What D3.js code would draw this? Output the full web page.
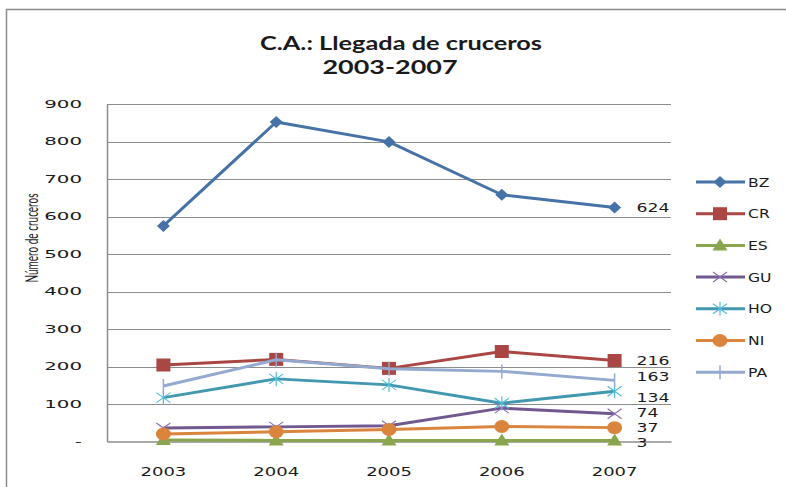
<!DOCTYPE html>
<html>
<head>
<meta charset="utf-8">
<script src="https://cdn.jsdelivr.net/npm/d3@7/dist/d3.min.js"></script>
<style>
  body { margin: 0; background: #fff; }
  svg { display: block; }
  text { fill: #1a1a1a; }
  .tick-label, .end-label, .legend-label, .year-label { font-family: "DejaVu Sans", sans-serif; }
  .tick-label { font-size: 11px; }
  .year-label { font-size: 12px; }
  .end-label { font-size: 12.5px; }
  .legend-label { font-size: 12.5px; }
  .title { font-family: Lato, "Open Sans", sans-serif; font-size: 19px; font-weight: bold; }
  .y-title { font-family: Lato, "Open Sans", sans-serif; font-size: 14px; }
</style>
</head>
<body>
<div id="chart"></div>
<script>
// data
const years = ['2003', '2004', '2005', '2006', '2007'];
const countries = ['BZ', 'CR', 'ES', 'GU', 'HO', 'NI', 'PA'];
const bz = [575, 852, 799, 658, 624];
const cr = [204, 219, 195, 240, 216];
const es = [4, 3, 3, 3, 3];
const gu = [36, 39, 42, 89, 74];
const ho = [117, 167, 151, 102, 134];
const ni = [20, 26, 32, 40, 37];
const pa = [148, 218, 194, 187, 163];
const yTickValues = [0, 100, 200, 300, 400, 500, 600, 700, 800, 900];

const seriesValues = [bz, cr, es, gu, ho, ni, pa];

// styles
const colors = ['#4572A7', '#AA4643', '#89A54E', '#71588F', '#4198AF', '#DB843D', '#93A9CF'];
const markers = ['diamond', 'square', 'triangle', 'x', 'star', 'circle', 'plus'];
// small vertical nudges for end labels so they don't collide
const labelNudge = { BZ: 0, CR: 0, ES: 2, GU: -1.5, HO: 6, NI: 0, PA: -4 };

const W = 786, H = 487;
const plot = { left: 107, right: 671, top: 104, bottom: 441.5 };

const svg = d3.select('#chart').append('svg')
  .attr('width', W).attr('height', H);

// the source picture is stretched sideways, so text gets a horizontal scale
function wideText(parent, px, py, str, cls, anchor, sx) {
  return parent.append('g')
    .attr('transform', `translate(${px},${py}) scale(${sx},1)`)
    .append('text')
      .attr('class', cls)
      .attr('text-anchor', anchor)
      .attr('dy', '0.36em')
      .text(str);
}

// outer frame
svg.append('path')
  .attr('d', `M6.5,${H} L6.5,9.5 L${W},9.5`)
  .attr('fill', 'none').attr('stroke', '#8a8a8a').attr('stroke-width', 1.5);

// title
svg.append('text').attr('class', 'title')
  .attr('x', 401).attr('y', 50).attr('text-anchor', 'middle')
  .attr('textLength', 282).attr('lengthAdjust', 'spacingAndGlyphs')
  .text('C.A.: Llegada de cruceros');
svg.append('text').attr('class', 'title')
  .attr('x', 390).attr('y', 74).attr('text-anchor', 'middle')
  .attr('textLength', 135).attr('lengthAdjust', 'spacingAndGlyphs')
  .text('2003-2007');

const x = d3.scaleBand()
  .domain(years)
  .range([plot.left, plot.right]);

const y = d3.scaleLinear()
  .domain([0, 900])
  .range([plot.bottom, plot.top]);

const cx = d => x(d) + x.bandwidth() / 2;

// gridlines
svg.append('g')
  .selectAll('line')
  .data(yTickValues.filter(v => v > 0))
  .enter().append('line')
    .attr('x1', plot.left).attr('x2', plot.right)
    .attr('y1', d => Math.round(y(d)) + 0.5).attr('y2', d => Math.round(y(d)) + 0.5)
    .attr('stroke', '#8c8c8c').attr('stroke-width', 1);

// y axis (line only, labels drawn wide below)
const yAxis = svg.append('g')
  .attr('transform', `translate(${plot.left},0)`)
  .call(d3.axisLeft(y).tickValues(yTickValues).tickSize(0).tickFormat(''));
yAxis.select('.domain').attr('stroke', '#8c8c8c').attr('stroke-width', 1.5);

const yLabels = svg.append('g');
yTickValues.forEach(v => {
  wideText(yLabels, plot.left - 25, y(v), v === 0 ? '-' : v, 'tick-label', 'end', 1.8);
});

// x axis
const xAxis = svg.append('g')
  .attr('transform', `translate(0,${plot.bottom})`)
  .call(d3.axisBottom(x).tickSize(0).tickFormat(''));
xAxis.select('.domain').attr('stroke', '#8c8c8c').attr('stroke-width', 1.5);

const xLabels = svg.append('g');
years.forEach(yr => {
  wideText(xLabels, cx(yr), plot.bottom + 30, yr, 'year-label', 'middle', 1.5);
});

// y title
svg.append('text').attr('class', 'y-title')
  .attr('transform', 'translate(38,238) rotate(-90) scale(1,1.2)')
  .attr('text-anchor', 'middle')
  .attr('textLength', 89).attr('lengthAdjust', 'spacingAndGlyphs')
  .text('Número de cruceros');

// marker drawing
function drawMarker(g, type, color) {
  switch (type) {
    case 'diamond':
      g.append('path').attr('d', 'M0,-6 L6.5,0 L0,6 L-6.5,0Z').attr('fill', color);
      break;
    case 'square':
      g.append('rect').attr('x', -7).attr('y', -6.5).attr('width', 14).attr('height', 13).attr('fill', color);
      break;
    case 'triangle':
      g.append('path').attr('d', 'M0,-7 L7.5,5 L-7.5,5Z').attr('fill', color);
      break;
    case 'circle':
      g.append('ellipse').attr('rx', 7.5).attr('ry', 6.5).attr('fill', color);
      break;
    case 'x':
      g.append('path').attr('d', 'M-7,-5 L7,5 M-7,5 L7,-5')
        .attr('stroke', d3.color(color).brighter(0.6)).attr('stroke-width', 1.2).attr('fill', 'none');
      break;
    case 'star':
      g.append('path').attr('d', 'M-7,-5 L7,5 M-7,5 L7,-5 M0,-7 L0,7')
        .attr('stroke', d3.color(color).brighter(0.6)).attr('stroke-width', 1.2).attr('fill', 'none');
      break;
    case 'plus':
      g.append('path').attr('d', 'M0,-7 L0,7')
        .attr('stroke', color).attr('stroke-width', 1.5).attr('fill', 'none');
      break;
  }
}

const line = d3.line()
  .x((d, i) => cx(years[i]))
  .y(d => y(d));

const series = countries.map((c, i) => ({ name: c, values: seriesValues[i], color: colors[i], marker: markers[i] }));

const endLabels = svg.append('g');
series.forEach(s => {
  const g = svg.append('g');
  g.append('path')
    .datum(s.values)
    .attr('d', line)
    .attr('fill', 'none')
    .attr('stroke', s.color)
    .attr('stroke-width', 3)
    .attr('stroke-linejoin', 'round');
  g.selectAll('g.mk')
    .data(s.values)
    .enter().append('g')
      .attr('class', 'mk')
      .attr('transform', (d, i) => `translate(${cx(years[i])},${y(d)})`)
      .each(function () { drawMarker(d3.select(this), s.marker, s.color); });
  // end label
  const last = s.values[s.values.length - 1];
  wideText(endLabels, cx(years[years.length - 1]) + 22, y(last) + labelNudge[s.name], last, 'end-label', 'start', 1.38);
});

// legend
const legend = svg.append('g').attr('transform', 'translate(696,182)');
const item = legend.selectAll('g')
  .data(series)
  .enter().append('g')
    .attr('transform', (d, i) => `translate(0,${i * 31.7})`);
item.append('line')
  .attr('x1', 0).attr('x2', 49)
  .attr('stroke', d => d.color).attr('stroke-width', 3);
item.append('g')
  .attr('transform', 'translate(24,0)')
  .each(function (d) { drawMarker(d3.select(this), d.marker, d.color); });
item.each(function (d) {
  wideText(d3.select(this), 52, 0, d.name, 'legend-label', 'start', 1.25);
});
</script>
</body>
</html>
